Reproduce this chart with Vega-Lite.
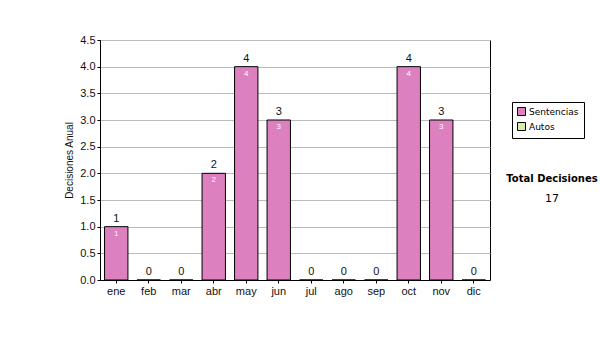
{
  "$schema": "https://vega.github.io/schema/vega-lite/v6.json",
  "width": 390,
  "height": 240,
  "autosize": {"type": "none"},
  "padding": {"left": 100, "top": 40, "right": 110, "bottom": 60},
  "background": "white",
  "config": {
    "view": {"stroke": "#000", "strokeWidth": 1, "fill": "white"},
    "font": "Liberation Sans"
  },
  "title": {
    "text": "Total Decisiones",
    "subtitle": "17",
    "anchor": "start",
    "align": "center",
    "frame": "group",
    "offset": 0,
    "dx": 452,
    "dy": 170,
    "font": "DejaVu Sans",
    "fontSize": 10,
    "fontWeight": "bold",
    "color": "#000",
    "subtitleFont": "DejaVu Sans",
    "subtitleFontSize": 11,
    "subtitleColor": "#000",
    "subtitlePadding": 9
  },
  "data": {
    "values": [
      {"mes": "ene", "valor": 1, "serie": "Sentencias"},
      {"mes": "feb", "valor": 0, "serie": "Sentencias"},
      {"mes": "mar", "valor": 0, "serie": "Sentencias"},
      {"mes": "abr", "valor": 2, "serie": "Sentencias"},
      {"mes": "may", "valor": 4, "serie": "Sentencias"},
      {"mes": "jun", "valor": 3, "serie": "Sentencias"},
      {"mes": "jul", "valor": 0, "serie": "Sentencias"},
      {"mes": "ago", "valor": 0, "serie": "Sentencias"},
      {"mes": "sep", "valor": 0, "serie": "Sentencias"},
      {"mes": "oct", "valor": 4, "serie": "Sentencias"},
      {"mes": "nov", "valor": 3, "serie": "Sentencias"},
      {"mes": "dic", "valor": 0, "serie": "Sentencias"}
    ]
  },
  "encoding": {
    "x": {
      "field": "mes",
      "type": "nominal",
      "sort": null,
      "scale": {"paddingInner": 0.28, "paddingOuter": 0.14},
      "axis": {
        "title": null,
        "labelAngle": 0,
        "labelFont": "Liberation Sans",
        "labelFontSize": 11,
        "labelColor": "#111",
        "labelPadding": 2,
        "tickSize": 3,
        "tickColor": "#000",
        "domainColor": "#000",
        "grid": false
      }
    },
    "y": {
      "field": "valor",
      "type": "quantitative",
      "scale": {"domain": [0, 4.5], "nice": false},
      "axis": {
        "title": "Decisiones Anual",
        "titleFont": "Liberation Sans",
        "titleFontSize": 10,
        "titleFontWeight": "normal",
        "titleColor": "#111",
        "titlePadding": 5,
        "values": [0, 0.5, 1, 1.5, 2, 2.5, 3, 3.5, 4, 4.5],
        "format": ".1f",
        "labelFont": "Liberation Sans",
        "labelFontSize": 11,
        "labelColor": "#111",
        "labelPadding": 2,
        "tickSize": 3,
        "tickColor": "#000",
        "domainColor": "#000",
        "grid": true,
        "gridColor": "#BBBBBB",
        "gridWidth": 1
      }
    }
  },
  "layer": [
    {
      "mark": {"type": "bar", "stroke": "#000", "strokeWidth": 1, "opacity": 1},
      "encoding": {
        "color": {
          "field": "serie",
          "type": "nominal",
          "scale": {"domain": ["Sentencias", "Autos"], "range": ["#DD80C0", "#D4EEA4"]},
          "legend": {
            "title": null,
            "orient": "none",
            "legendX": 412,
            "legendY": 62,
            "strokeColor": "#000",
            "fillColor": "white",
            "padding": 5,
            "symbolType": "square",
            "symbolSize": 64,
            "symbolStrokeColor": "#000",
            "symbolStrokeWidth": 1,
            "symbolOpacity": 1,
            "labelFont": "DejaVu Sans",
            "labelFontSize": 9,
            "labelColor": "#000",
            "labelOffset": 3,
            "rowPadding": 2
          }
        }
      }
    },
    {
      "mark": {"type": "text", "baseline": "bottom", "dy": -3, "fontSize": 11, "color": "#111", "font": "Liberation Sans"},
      "encoding": {"text": {"field": "valor", "type": "quantitative"}}
    },
    {
      "transform": [{"filter": "datum.valor > 0"}],
      "mark": {"type": "text", "baseline": "top", "dy": 3, "fontSize": 8, "color": "white", "font": "Liberation Sans"},
      "encoding": {"text": {"field": "valor", "type": "quantitative"}}
    }
  ]
}
